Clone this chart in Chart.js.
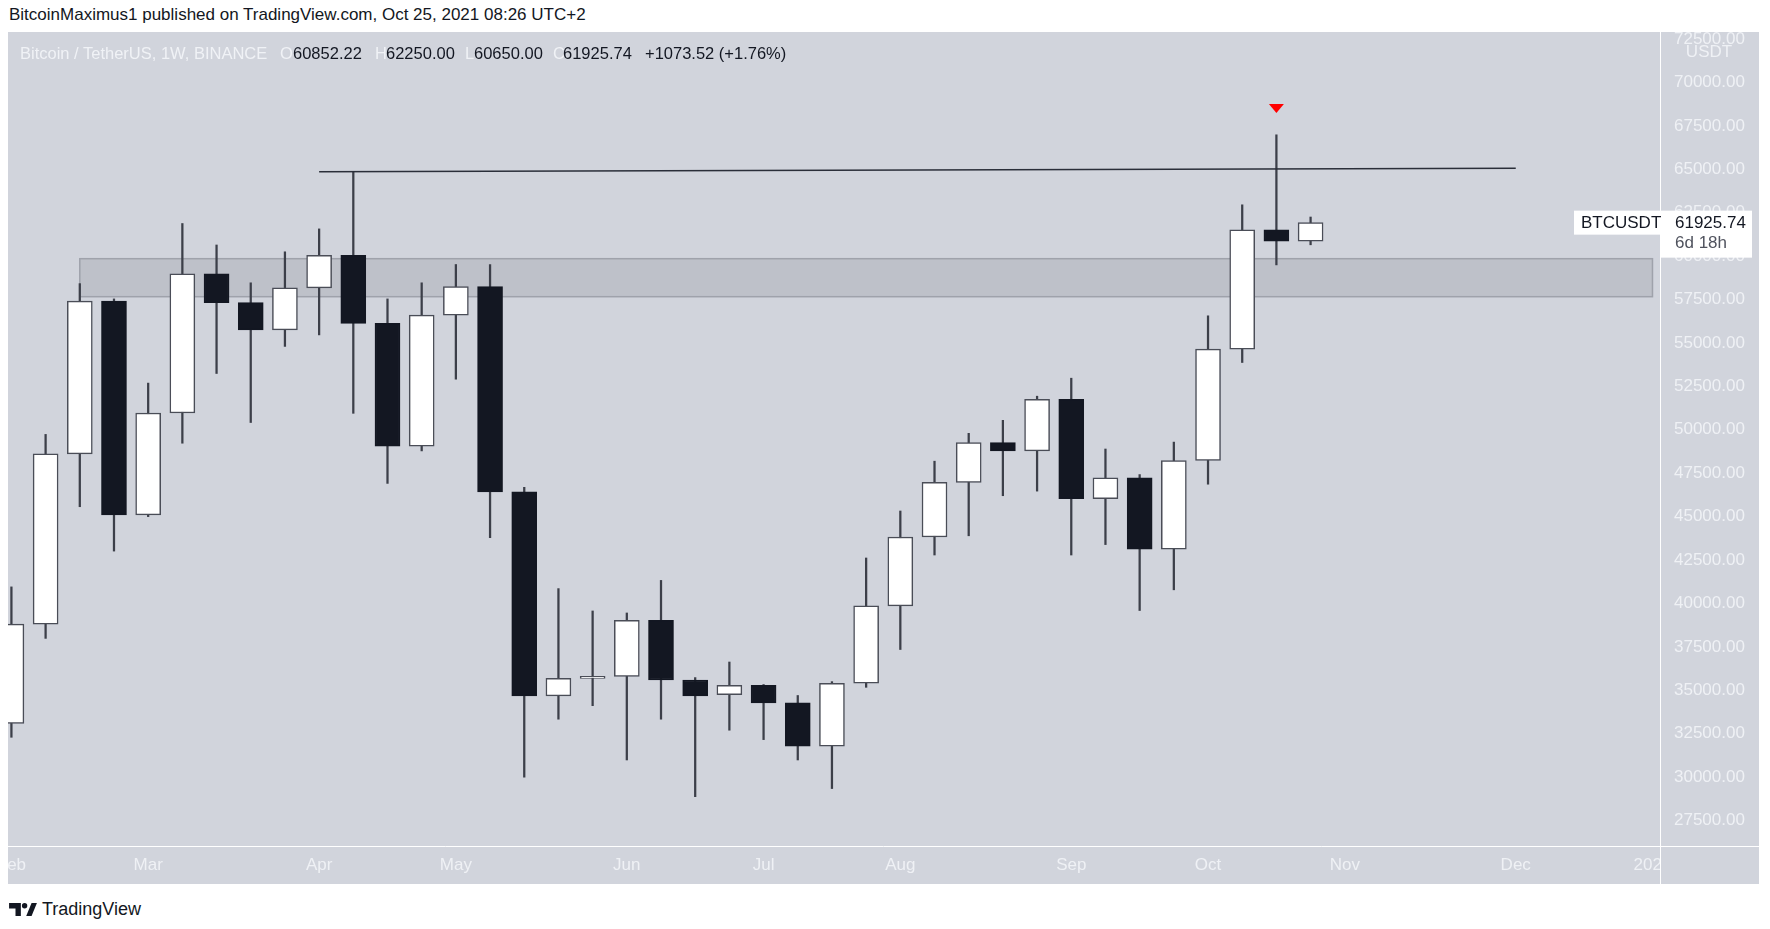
<!DOCTYPE html>
<html>
<head>
<meta charset="utf-8">
<script src="https://cdn.jsdelivr.net/npm/chart.js@4.4.1/dist/chart.umd.min.js"></script>
<style>
  body { margin: 0; width: 1770px; height: 929px; background: #fff; position: relative; overflow: hidden;
         font-family: 'Liberation Sans', Arial, sans-serif; }
  #title { position: absolute; left: 9px; top: 5px; font-size: 17px; color: #131722; white-space: nowrap; }
  #wrap { position: absolute; left: 8px; top: 32px; width: 1751px; height: 852px; }
  #legend span { position: absolute; top: 43px; font-size: 16.5px; line-height: 20px; white-space: nowrap; color: #131722; }
  #legend .f { color: #f0f2f6; }
  #footer { position: absolute; left: 9px; top: 899px; font-size: 18px; color: #131722; display: flex; align-items: center; }
  #footer svg { margin-right: 5px; }
</style>
</head>
<body>
<div id="title">BitcoinMaximus1 published on TradingView.com, Oct 25, 2021 08:26 UTC+2</div>
<div id="wrap"><canvas id="btcChart"></canvas></div>
<div id="legend">
  <span class="f" style="left:20px">Bitcoin / TetherUS, 1W, BINANCE</span>
  <span class="f" style="left:280px">O</span><span style="left:293px">60852.22</span>
  <span class="f" style="left:375px">H</span><span style="left:386px">62250.00</span>
  <span class="f" style="left:465px">L</span><span style="left:474px">60650.00</span>
  <span class="f" style="left:553px">C</span><span style="left:563px">61925.74</span>
  <span style="left:645px">+1073.52 (+1.76%)</span>
</div>
<div id="footer">
  <svg width="28" height="15" viewBox="0 0 26 14"><path d="M0 1h11v12h-5v-7h-6z" fill="#131722"/><circle cx="14.5" cy="3.5" r="2.5" fill="#131722"/><path d="M16 13l5-12h5l-5 12z" fill="#131722"/></svg>
  <span>TradingView</span>
</div>
<script>
// weekly candles, Binance BTCUSDT 2021
const weeks = ['Feb 1', 'Feb 8', 'Feb 15', 'Feb 22', 'Mar 1', 'Mar 8', 'Mar 15', 'Mar 22', 'Mar 29',
  'Apr 5', 'Apr 12', 'Apr 19', 'Apr 26', 'May 3', 'May 10', 'May 17', 'May 24', 'May 31',
  'Jun 7', 'Jun 14', 'Jun 21', 'Jun 28', 'Jul 5', 'Jul 12', 'Jul 19', 'Jul 26',
  'Aug 2', 'Aug 9', 'Aug 16', 'Aug 23', 'Aug 30', 'Sep 6', 'Sep 13', 'Sep 20', 'Sep 27',
  'Oct 4', 'Oct 11', 'Oct 18', 'Oct 25'];
const opens  = [33092, 38807, 48611, 57403, 45105, 50967, 58986, 57317, 55750,
  58173, 60045, 56125, 49050, 56602, 58249, 46429, 34678, 35686,
  35807, 39025, 35594, 34748, 35289, 34275, 31787, 35405,
  39860, 43826, 46976, 49268, 48784, 51760, 46032, 47241, 43125,
  48231, 54645, 61519, 60852.22];
const highs  = [40955, 49734, 58416, 57535, 52688, 61876, 60640, 58462, 60247,
  61566, 64854, 57535, 58462, 59516, 59516, 46687, 40856, 39569,
  39453, 41328, 35733, 36630, 35334, 34702, 35500, 42619,
  45324, 48192, 49797, 50546, 51934, 52970, 48893, 47421, 49291,
  56562, 62953, 66983, 62250.00];
const lows   = [32296, 37990, 45571, 43016, 45000, 49227, 53241, 50419, 54800,
  55463, 50948, 46913, 48784, 52913, 43793, 30003, 33337, 34115,
  30990, 33337, 28876, 32703, 32162, 30990, 29344, 35173,
  37350, 42790, 43897, 46204, 46469, 42790, 43391, 39595, 40787,
  46867, 53874, 59493, 60650.00];
const closes = [38807, 48611, 57403, 45105, 50967, 58986, 57317, 55750, 58173,
  60045, 56125, 49050, 56602, 58249, 46429, 34678, 35686, 35807,
  39025, 35594, 34678, 35289, 34275, 31787, 35405, 39860,
  43826, 46976, 49268, 48784, 51760, 46032, 47241, 43125, 48231,
  54645, 61519, 60857, 61925.74];

// axis ticks
const monthTickIdx = [0, 4, 9, 13, 18, 22, 26, 31, 35, 39, 44, 48];
const monthLabels = ['Feb', 'Mar', 'Apr', 'May', 'Jun', 'Jul', 'Aug', 'Sep', 'Oct', 'Nov', 'Dec', '2022'];
const priceTicks = [27500, 30000, 32500, 35000, 37500, 40000, 42500, 45000, 47500, 50000,
  52500, 55000, 57500, 60000, 62500, 65000, 67500, 70000, 72500];

// drawings
const resistanceIdx = [9, 44];
const resistancePrice = [64854, 65054];
const zoneIdx = [2, 48];
const zonePrice = [57662, 59850];
const markerIdx = 37;
const markerPrice = 68500;

const BG = '#d1d4dc';
const AXIS_TEXT = '#eff1f5';
const DARK = '#131722';
const FONT = '"Liberation Sans", Arial, sans-serif';

const drawings = {
  id: 'drawings',
  beforeDraw(chart) {
    const c = chart.ctx;
    c.save();
    c.fillStyle = BG;
    c.fillRect(0, 0, chart.width, chart.height);
    c.restore();
  },
  beforeDatasetsDraw(chart) {
    const c = chart.ctx, x = chart.scales.x, y = chart.scales.y;
    const x0 = x.getPixelForValue(zoneIdx[0]), x1 = x.getPixelForValue(zoneIdx[1]);
    const y0 = y.getPixelForValue(zonePrice[1]), y1 = y.getPixelForValue(zonePrice[0]);
    c.save();
    c.fillStyle = '#bec1c9';
    c.fillRect(x0, y0, x1 - x0, y1 - y0);
    c.strokeStyle = '#9fa2ab';
    c.lineWidth = 1.5;
    c.strokeRect(x0, y0, x1 - x0, y1 - y0);
    c.restore();
  },
  afterDatasetsDraw(chart) {
    const c = chart.ctx, x = chart.scales.x, y = chart.scales.y;
    const mx = x.getPixelForValue(markerIdx), my = y.getPixelForValue(markerPrice);
    c.save();
    c.fillStyle = '#ff0000';
    c.beginPath();
    c.moveTo(mx - 7.5, my - 4.5);
    c.lineTo(mx + 7.5, my - 4.5);
    c.lineTo(mx, my + 4.5);
    c.closePath();
    c.fill();
    c.restore();
  },
  afterDraw(chart) {
    const c = chart.ctx, area = chart.chartArea, y = chart.scales.y;
    c.save();
    // bottom-right corner + separators
    c.fillStyle = BG;
    c.fillRect(area.right, area.bottom, chart.width - area.right, chart.height - area.bottom);
    c.strokeStyle = '#ffffff';
    c.lineWidth = 1;
    c.beginPath();
    c.moveTo(area.right + 0.5, 0); c.lineTo(area.right + 0.5, chart.height);
    c.moveTo(0, area.bottom + 0.5); c.lineTo(chart.width, area.bottom + 0.5);
    c.stroke();
    // axis unit
    c.font = '17px ' + FONT;
    c.fillStyle = AXIS_TEXT;
    c.textAlign = 'center';
    c.textBaseline = 'middle';
    c.fillText('USDT', area.right + 49, 20);
    // last price label
    const last = closes.length - 1;
    const yp = y.getPixelForValue(closes[last]);
    c.fillStyle = '#ffffff';
    c.fillRect(area.right - 86, yp - 12, 86, 24);
    c.fillRect(area.right, yp - 12, 92, 47);
    c.textAlign = 'left';
    c.fillStyle = DARK;
    c.fillText('BTCUSDT', area.right - 79, yp + 0.5);
    c.fillText(closes[last].toFixed(2), area.right + 15, yp + 0.5);
    c.fillStyle = '#50535e';
    c.fillText('6d 18h', area.right + 15, yp + 20.5);
    c.restore();
  }
};

const ctx = document.getElementById('btcChart');
const bodyFill = closes.map((cl, i) => cl >= opens[i] ? '#ffffff' : DARK);
const bodyBorder = closes.map((cl, i) => cl >= opens[i] ? '#4a4d57' : DARK);

new Chart(ctx, {
  data: {
    datasets: [
      {
        type: 'line',
        label: 'Resistance',
        data: resistanceIdx.map((v, i) => ({ x: v, y: resistancePrice[i] })),
        borderColor: '#2a2e39',
        borderWidth: 1.5,
        pointRadius: 0,
        order: 0
      },
      {
        type: 'bar',
        label: 'Body',
        data: weeks.map((w, i) => ({ x: i, y: [opens[i], closes[i]] })),
        backgroundColor: bodyFill,
        borderColor: bodyBorder,
        borderWidth: 1.5,
        borderSkipped: false,
        barThickness: 25,
        grouped: false,
        order: 1
      },
      {
        type: 'bar',
        label: 'Wick',
        data: weeks.map((w, i) => ({ x: i, y: [lows[i], highs[i]] })),
        backgroundColor: '#3c3f49',
        barThickness: 1.6,
        grouped: false,
        order: 2
      }
    ]
  },
  options: {
    responsive: true,
    maintainAspectRatio: false,
    animation: false,
    layout: { padding: 0 },
    plugins: {
      legend: { display: false },
      tooltip: { enabled: false }
    },
    scales: {
      x: {
        type: 'linear',
        min: -0.1,
        max: 48.22,
        offset: false,
        grid: { display: false, drawTicks: false },
        border: { display: false },
        afterBuildTicks: s => { s.ticks = monthTickIdx.map(v => ({ value: v })); },
        afterFit: s => { s.height = 38; s.paddingLeft = 0; s.paddingRight = 0; s.paddingTop = 0; s.paddingBottom = 0; },
        ticks: {
          autoSkip: false,
          maxRotation: 0,
          padding: 9,
          color: AXIS_TEXT,
          font: { family: FONT, size: 17 },
          callback: v => monthLabels[monthTickIdx.indexOf(v)]
        }
      },
      y: {
        type: 'linear',
        position: 'right',
        min: 26037,
        max: 72902,
        grid: { display: false, drawTicks: false },
        border: { display: false },
        afterBuildTicks: s => { s.ticks = priceTicks.map(v => ({ value: v })); },
        afterFit: s => { s.width = 99; s.paddingLeft = 0; s.paddingRight = 0; s.paddingTop = 0; s.paddingBottom = 0; },
        ticks: {
          padding: 14,
          color: AXIS_TEXT,
          font: { family: FONT, size: 17 },
          callback: v => Number(v).toFixed(2)
        }
      }
    }
  },
  plugins: [drawings]
});
</script>
</body>
</html>
